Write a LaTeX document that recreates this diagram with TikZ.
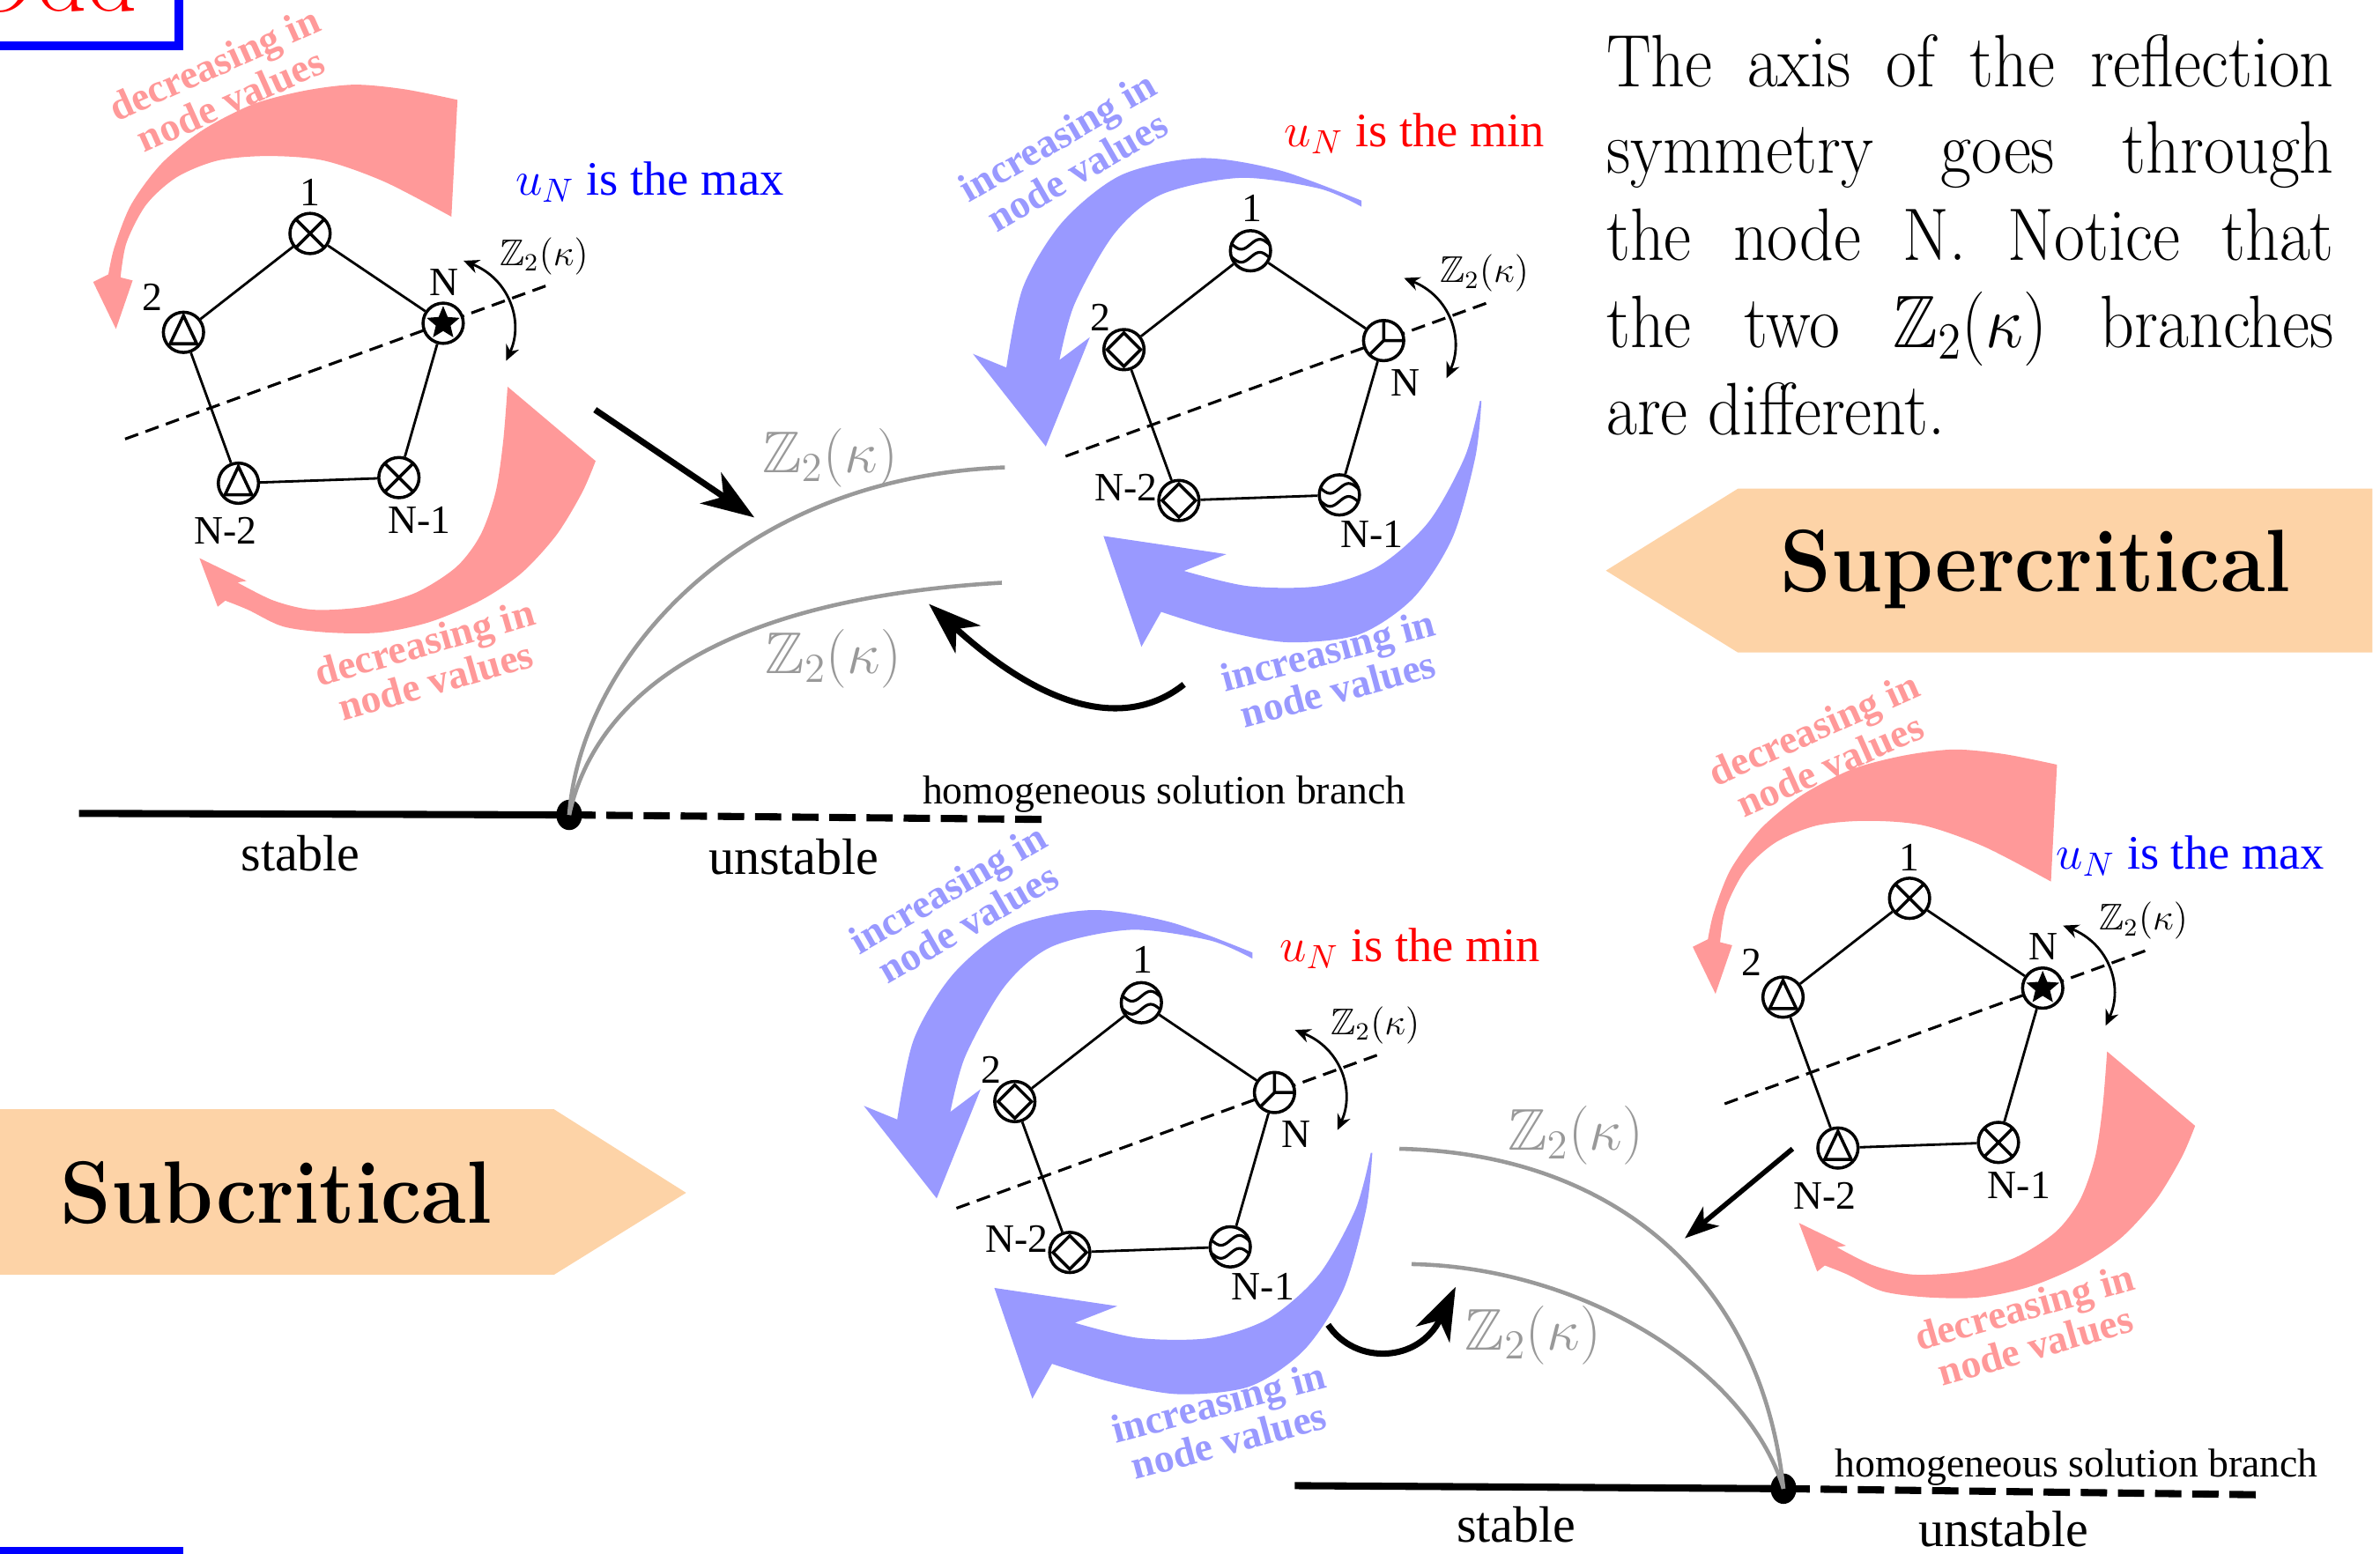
\RequirePackage{fix-cm}
\documentclass[tikz,border=0pt]{standalone}
\usepackage{amsmath,amssymb}
\usepackage{fontspec}
\usepackage{graphicx}
\usetikzlibrary{arrows.meta}
\newfontfamily\tms{Liberation Serif}
\definecolor{pinkc}{RGB}{255,153,153}
\definecolor{bluec}{RGB}{153,153,255}
\definecolor{peach}{RGB}{253,211,167}
\definecolor{brgray}{RGB}{153,153,153}

\begin{document}
\begin{tikzpicture}[x=0.017226cm,y=-0.017226cm,>=Stealth,
  site/.style={circle,draw,line width=1pt,minimum size=13pt,inner sep=0pt,fill=white},
  xsite/.style={site,path picture={\draw[line width=1pt] (path picture bounding box.south west)--(path picture bounding box.north east) (path picture bounding box.north west)--(path picture bounding box.south east);}},
  trisite/.style={site,path picture={\draw[line width=1pt,shift={(path picture bounding box.center)}] (0pt,5.4pt)--(-4.3pt,-3.7pt)--(4.3pt,-3.7pt)--cycle;}},
  starsite/.style={site,path picture={\fill[black,shift={(path picture bounding box.center)}] (90:5.6pt)--(126:2.5pt)--(162:5.6pt)--(198:2.5pt)--(234:5.6pt)--(270:2.5pt)--(306:5.6pt)--(342:2.5pt)--(18:5.6pt)--(54:2.5pt)--cycle;}},
  dmsite/.style={site,path picture={\draw[line width=1pt,shift={(path picture bounding box.center)}] (0pt,5.4pt)--(5.4pt,0pt)--(0pt,-5.4pt)--(-5.4pt,0pt)--cycle;}},
  ysite/.style={site,path picture={\draw[line width=1pt,shift={(path picture bounding box.center)}] (0pt,7pt)--(0pt,0pt)--(7pt,0pt) (0pt,0pt)--(-5pt,-5pt);}},
  wsite/.style={site,path picture={\foreach \o in {-2.1,2.1}{\draw[line width=0.9pt,shift={(path picture bounding box.center)},rotate=-50] plot[domain=-7:7,samples=25,smooth] ({\x pt},{(\o+1.6*sin(\x*180/6))*1pt});}}},
  link/.style={line width=0.8pt},
  axisline/.style={line width=0.9pt,dash pattern=on 4.5pt off 2.5pt},
  lab/.style={font=\tms\fontsize{13}{13}\selectfont,inner sep=0pt},
  zlab/.style={font=\fontsize{12}{12}\selectfont,inner sep=0pt},
  zarrow/.style={line width=0.8pt,{Stealth[length=5pt,width=4.5pt]}-{Stealth[length=5pt,width=4.5pt]}},
  swtext/.style={font=\tms\bfseries\fontsize{13}{11.5}\selectfont,align=center,inner sep=0pt},
  stabline/.style={line width=2.3pt},
  unstabline/.style={line width=2.3pt,dash pattern=on 8.5pt off 3.5pt},
  grayb/.style={brgray,line width=1.3pt},
  glab/.style={text=brgray,font=\fontsize{19}{19}\selectfont,inner sep=0pt},
  brlab/.style={font=\tms\fontsize{16.5}{16.5}\selectfont,anchor=base,inner sep=0pt},
  hlab/.style={font=\tms\fontsize{13}{13}\selectfont,anchor=base,inner sep=0pt},
  ulab/.style={font=\tms\fontsize{15.5}{15.5}\selectfont,inner sep=0pt},
  bigarrow/.style={line width=2pt,-{Stealth[length=17pt,width=12pt,inset=5pt]}},
  smallarrow/.style={line width=1.6pt,-{Stealth[length=11pt,width=8pt,inset=3pt]}}]
\useasboundingbox (0,0) rectangle (1568,1024);
\clip (0,0) rectangle (1568,1024);

% clipped title boxes
\draw[blue,line width=2.85pt] (-30,-60) rectangle (118,30);
\node[text=red,font=\fontsize{32}{32}\selectfont,anchor=base east,inner sep=0pt] (odd) at (91,7) {Odd};
\draw[blue,line width=2.85pt] (-30,1022.5) rectangle (118,1100);

% supercritical / subcritical signs
\fill[peach] (1058,376)--(1145,322)--(1563,322)--(1563,430)--(1145,430)--cycle;
\node[anchor=base,inner sep=0pt] (sup) at (1341,390) {\scalebox{0.92}[1]{\fontsize{28.6}{30}\selectfont\bfseries Supercritical}};
\fill[peach] (-5,731)--(365,731)--(452,786)--(365,840)--(-5,840)--cycle;
\node[anchor=base,inner sep=0pt] (sub) at (182,806) {\scalebox{0.92}[1]{\fontsize{28.6}{30}\selectfont\bfseries Subcritical}};

% explanation
\node[anchor=base west,inner sep=0pt] (expl) at (1058,57) {\scalebox{0.9}[1]{\parbox[t]{261pt}{\fontsize{24}{28.1}\selectfont The axis of the reflection\linebreak symmetry goes through\linebreak the node N. Notice that\linebreak the two $\mathbb{Z}_2(\kappa)$ branches\linebreak are different.}}};

% networks with max at N
\foreach \p/\cx/\cy in {a/207.4/243.8,d/1261.2/681.9}{
\begin{scope}[shift={(\cx,\cy)}]
\fill[pinkc] plot[smooth] coordinates {(90,-101) (46,-124) (6,-138) (-31,-141) (-64,-138) (-91,-127) (-111,-109) (-124,-84) (-128,-61)} -- (-120,-59) -- (-131,-27) -- (-146,-58) -- plot[smooth] coordinates {(-136,-63) (-132,-81) (-121,-109) (-101,-136) (-74,-158) (-41,-175) (-7,-184) (26,-188) (59,-185) (94,-178)} -- cycle;
\fill[pinkc] plot[smooth] coordinates {(127,11) (124,48) (119,81) (109,109) (93,130) (66,147) (33,156) (-1,158) (-27,152) (-51,140)} -- (-45,139) -- (-76,124) -- (-64,156) -- plot[smooth] coordinates {(-59,152) (-44,158) (-21,169) (9,173) (43,173) (76,166) (109,152) (136,134) (159,109) (176,81) (185,60)} -- cycle;
\node[swtext,text=pinkc,rotate=24] (\p t1) at (-61,-190) {decreasing in\\node values};
\node[swtext,text=pinkc,rotate=16] (\p t2) at (76,192) {decreasing in\\node values};
\draw[axisline] (160:133)--(-20:162);
\node[xsite] (\p1) at (-92:90) {};
\node[trisite] (\p2) at (196:90) {};
\node[starsite] (\p N) at (-20:90) {};
\node[xsite] (\p M) at (52:90) {};
\node[trisite] (\p L) at (124:90) {};
\draw[link] (\p1)--(\p N)--(\p M)--(\p L)--(\p2)--(\p1);
\node[lab] (\p l1) at (-3,-117) {1};
\node[lab] (\p l2) at (-107,-48) {2};
\node[lab] (\p lN) at (85,-58) {N};
\node[lab] (\p lL) at (-59,106) {N-2};
\node[lab] (\p lM) at (69,99) {N-1};
\draw[zarrow] (98,-72) .. controls (128,-60) and (138,-32) .. (126,-6);
\node[zlab] (\p z) at (151,-75) {$\mathbb{Z}_2(\kappa)$};
\end{scope}}

% networks with min at N
\foreach \p/\cx/\cy in {b/827/255.2,c/755.1/750.7}{
\begin{scope}[shift={(\cx,\cy)}]
\fill[bluec] plot[smooth] coordinates {(70,-123) (16,-143) (-36,-151) (-88,-140) (-127,-109) (-153,-66) (-164,-13)} -- (-186,-22) -- (-138,39) -- (-109,-33) -- plot[smooth] coordinates {(-129,-18) (-119,-55) (-93,-101) (-62,-127) (-10,-138) (42,-131) (70,-119)} -- cycle;
\fill[bluec] plot[smooth] coordinates {(149,9) (145,46) (130,99) (104,139) (68,163) (21,168) (-23,160) (-62,148)} -- (-75,171) -- (-100,98) -- (-19,110) -- plot[smooth] coordinates {(-47,121) (-5,131) (42,131) (81,118) (114,89) (138,46) (148,9)} -- cycle;
\node[swtext,text=bluec,rotate=30] (\p t1) at (-124,-154) {increasing in\\node values};
\node[swtext,text=bluec,rotate=15] (\p t2) at (51,186) {increasing in\\node values};
\draw[axisline] (160:133)--(-20:162);
\node[wsite] (\p1) at (-92:90) {};
\node[dmsite] (\p2) at (196:90) {};
\node[ysite] (\p N) at (-20:90) {};
\node[wsite] (\p M) at (52:90) {};
\node[dmsite] (\p L) at (124:90) {};
\draw[link] (\p1)--(\p N)--(\p M)--(\p L)--(\p2)--(\p1);
\node[lab] (\p l1) at (-2,-118) {1};
\node[lab] (\p l2) at (-102,-46) {2};
\node[lab] (\p lN) at (99,-3) {N};
\node[lab] (\p lL) at (-85,66) {N-2};
\node[lab] (\p lM) at (77,97) {N-1};
\draw[zarrow] (98,-72) .. controls (128,-60) and (138,-32) .. (126,-6);
\node[zlab] (\p z) at (151,-75) {$\mathbb{Z}_2(\kappa)$};
\end{scope}}

\node[ulab,text=blue] (umax1) at (428,120) {$u_N$ is the max};
\node[ulab,text=blue] (umax2) at (1443,564) {$u_N$ is the max};
\node[ulab,text=red] (umin1) at (932,88) {$u_N$ is the min};
\node[ulab,text=red] (umin2) at (929,625) {$u_N$ is the min};

% supercritical bifurcation
\coordinate (s0) at (52,536); \coordinate (o1) at (375,537); \coordinate (s1) at (690,540);
\draw[stabline] (s0)--(o1); \draw[unstabline] (o1)--(s1);
\fill (o1) ellipse [x radius=8.5,y radius=10];
\coordinate (g1) at (662,308); \coordinate (g2) at (660,384);
\draw[grayb] (o1) .. controls (382,440) and (480,315) .. (g1);
\draw[grayb] (o1) .. controls (392,460) and (470,395) .. (g2);
\node[glab] (gz1) at (547,302) {$\mathbb{Z}_2(\kappa)$};
\node[glab] (gz2) at (549,434) {$\mathbb{Z}_2(\kappa)$};
\node[brlab] (st1) at (198,574) {stable};
\node[brlab] (un1) at (523,576) {unstable};
\node[hlab] (hs1) at (767,530) {homogeneous solution branch};
\coordinate (p1) at (392,270); \coordinate (q1) at (497,341);
\draw[bigarrow] (p1)--(q1);
\coordinate (p2) at (780,451); \coordinate (q2) at (612,398);
\draw[bigarrow] (p2) .. controls (750,475) and (700,478) .. (q2);

% subcritical bifurcation
\coordinate (s2) at (853,979); \coordinate (o2) at (1175,981); \coordinate (s3) at (1488,985);
\draw[stabline] (s2)--(o2); \draw[unstabline] (o2)--(s3);
\fill (o2) ellipse [x radius=8.5,y radius=10];
\coordinate (g3) at (922,757); \coordinate (g4) at (930,833);
\draw[grayb] (o2) .. controls (1160,840) and (1060,760) .. (g3);
\draw[grayb] (o2) .. controls (1150,900) and (1040,835) .. (g4);
\node[glab] (gz3) at (1038,748) {$\mathbb{Z}_2(\kappa)$};
\node[glab] (gz4) at (1010,880) {$\mathbb{Z}_2(\kappa)$};
\node[brlab] (st2) at (999,1016) {stable};
\node[brlab] (un2) at (1320,1019) {unstable};
\node[hlab] (hs2) at (1368,973) {homogeneous solution branch};
\coordinate (p3) at (1181,757); \coordinate (q3) at (1110,816);
\draw[smallarrow] (p3)--(q3);
\coordinate (p4) at (875,873); \coordinate (q4) at (959,848);
\draw[bigarrow] (p4) .. controls (893,900) and (935,898) .. (q4);
\end{tikzpicture}
\end{document}
